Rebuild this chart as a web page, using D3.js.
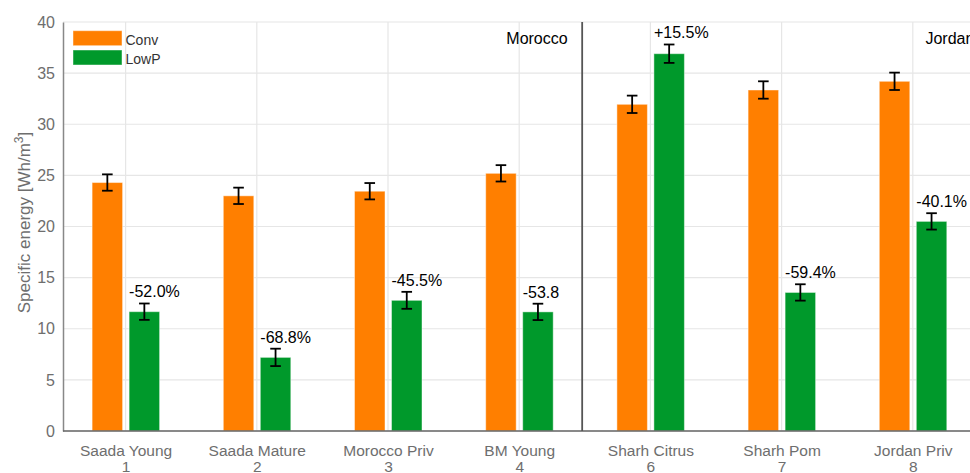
<!DOCTYPE html>
<html>
<head>
<meta charset="utf-8">
<script src="https://cdn.jsdelivr.net/npm/d3@7"></script>
<style>
  html, body { margin: 0; padding: 0; background: #fff; }
  svg { display: block; font-family: "Liberation Sans", Arial, sans-serif; }
</style>
</head>
<body>
<svg id="chart" width="970" height="473"></svg>
<script>
// Specific energy per site, conventional vs low-pressure irrigation
const sites = ["Saada Young", "Saada Mature", "Morocco Priv", "BM Young", "Sharh Citrus", "Sharh Pom", "Jordan Priv"];
const siteIds = ["1", "2", "3", "4", "6", "7", "8"];
const conv = [24.3, 23.0, 23.45, 25.2, 31.95, 33.35, 34.2];
const convErr = [0.8, 0.8, 0.8, 0.8, 0.85, 0.85, 0.85];
const lowp = [11.67, 7.2, 12.78, 11.65, 36.9, 13.55, 20.5];
const lowpErr = [0.8, 0.85, 0.83, 0.8, 0.9, 0.8, 0.8];
const changeLabels = ["-52.0%", "-68.8%", "-45.5%", "-53.8", "+15.5%", "-59.4%", "-40.1%"];
const yTicks = [0, 5, 10, 15, 20, 25, 30, 35, 40];
const regions = [{ name: "Morocco", end: 3.48 }, { name: "Jordan", end: 6.58 }];
const series = [
  { name: "Conv", values: conv, err: convErr, color: "#ff7f00" },
  { name: "LowP", values: lowp, err: lowpErr, color: "#00992b" }
];

const svg = d3.select("#chart");
const plot = { left: 63, top: 22, bottom: 431 };

const x = d3.scaleLinear().domain([0, 6]).range([125.6, 912.8]);
const y = d3.scaleLinear().domain([0, 40]).range([plot.bottom, plot.top]);
const plotRight = x(6.5) + 10;

const barW = 30.5;
const barOffset = [-33.5, 3.5];

// grid
const grid = svg.append("g");
grid.selectAll("line.h").data(yTicks).join("line")
  .attr("x1", plot.left).attr("x2", plotRight)
  .attr("y1", d => y(d)).attr("y2", d => y(d))
  .attr("stroke", "#e6e6e6").attr("stroke-width", 1.2);
grid.selectAll("line.v").data(d3.range(sites.length)).join("line")
  .attr("x1", d => x(d)).attr("x2", d => x(d))
  .attr("y1", plot.top).attr("y2", plot.bottom)
  .attr("stroke", "#e6e6e6").attr("stroke-width", 1.2);

// bars
series.forEach((s, si) => {
  const g = svg.append("g");
  g.selectAll("rect").data(s.values).join("rect")
    .attr("x", (d, i) => x(i) + barOffset[si])
    .attr("width", barW)
    .attr("y", d => y(d))
    .attr("height", d => y(0) - y(d))
    .attr("fill", s.color)
    .attr("stroke", "rgba(255,255,255,0.45)")
    .attr("stroke-width", 1);
});

// error bars
series.forEach((s, si) => {
  const g = svg.append("g").attr("stroke", "#000").attr("stroke-width", 1.8).attr("fill", "none");
  s.values.forEach((v, i) => {
    const cx = x(i) + barOffset[si] + barW / 2;
    const y1 = y(v + s.err[i]), y2 = y(v - s.err[i]);
    g.append("line").attr("x1", cx).attr("x2", cx).attr("y1", y1).attr("y2", y2);
    g.append("line").attr("x1", cx - 5.3).attr("x2", cx + 5.3).attr("y1", y1).attr("y2", y1);
    g.append("line").attr("x1", cx - 5.3).attr("x2", cx + 5.3).attr("y1", y2).attr("y2", y2);
  });
});

// change labels over LowP bars
svg.append("g").selectAll("text").data(changeLabels).join("text")
  .attr("x", (d, i) => x(i) + barOffset[1])
  .attr("y", (d, i) => y(lowp[i] + lowpErr[i]) - 6)
  .attr("font-size", 16).attr("fill", "#000")
  .text(d => d);

// axes
const yAxis = d3.axisLeft(y).tickValues(yTicks).tickSize(0).tickPadding(8);
const ya = svg.append("g").attr("transform", `translate(${plot.left},0)`).call(yAxis);
ya.select(".domain").attr("stroke", "#888").attr("stroke-width", 1.5);
ya.selectAll("text").attr("font-size", 16).attr("fill", "#6e6e6e")
  .attr("font-family", "Liberation Sans, Arial, sans-serif");

const xAxis = d3.axisBottom(x).tickValues(d3.range(sites.length)).tickSize(0).tickFormat(() => "");
const xa = svg.append("g").attr("transform", `translate(0,${plot.bottom})`).call(xAxis);
xa.select(".domain").attr("d", `M${plot.left},0H${plotRight}`).attr("stroke", "#666").attr("stroke-width", 1.5);
xa.selectAll(".tick").each(function (d) {
  const t = d3.select(this).append("text")
    .attr("fill", "#6e6e6e").attr("font-size", 15.5)
    .attr("text-anchor", "middle")
    .attr("font-family", "Liberation Sans, Arial, sans-serif");
  t.append("tspan").attr("x", 0).attr("y", 24.7).text(sites[d]);
  t.append("tspan").attr("x", 0).attr("y", 40.5).text(siteIds[d]);
});

// region separator and names
svg.append("line")
  .attr("x1", x(regions[0].end)).attr("x2", x(regions[0].end))
  .attr("y1", plot.top).attr("y2", plot.bottom)
  .attr("stroke", "#555").attr("stroke-width", 1.8);
svg.append("g").selectAll("text").data(regions).join("text")
  .attr("x", d => x(d.end) - 14.5)
  .attr("y", 43.5)
  .attr("text-anchor", "end")
  .attr("font-size", 16).attr("fill", "#000")
  .text(d => d.name);

// y title
svg.append("text")
  .attr("transform", `translate(30,${(plot.top + plot.bottom) / 2 - 4}) rotate(-90)`)
  .attr("text-anchor", "middle")
  .attr("font-size", 17).attr("fill", "#6e6e6e")
  .call(t => {
    t.append("tspan").text("Specific energy [Wh/m");
    t.append("tspan").attr("baseline-shift", "super").attr("font-size", 12).text("3");
    t.append("tspan").text("]");
  });

// legend
const legend = svg.append("g");
series.forEach((s, i) => {
  legend.append("rect")
    .attr("x", 73).attr("y", 30.7 + i * 19.3)
    .attr("width", 49).attr("height", 15)
    .attr("fill", s.color)
    .attr("stroke", "rgba(255,255,255,0.45)").attr("stroke-width", 1);
  legend.append("text")
    .attr("x", 125.5).attr("y", 44.5 + i * 19)
    .attr("font-size", 14).attr("fill", "#333")
    .text(s.name);
});
</script>
</body>
</html>
